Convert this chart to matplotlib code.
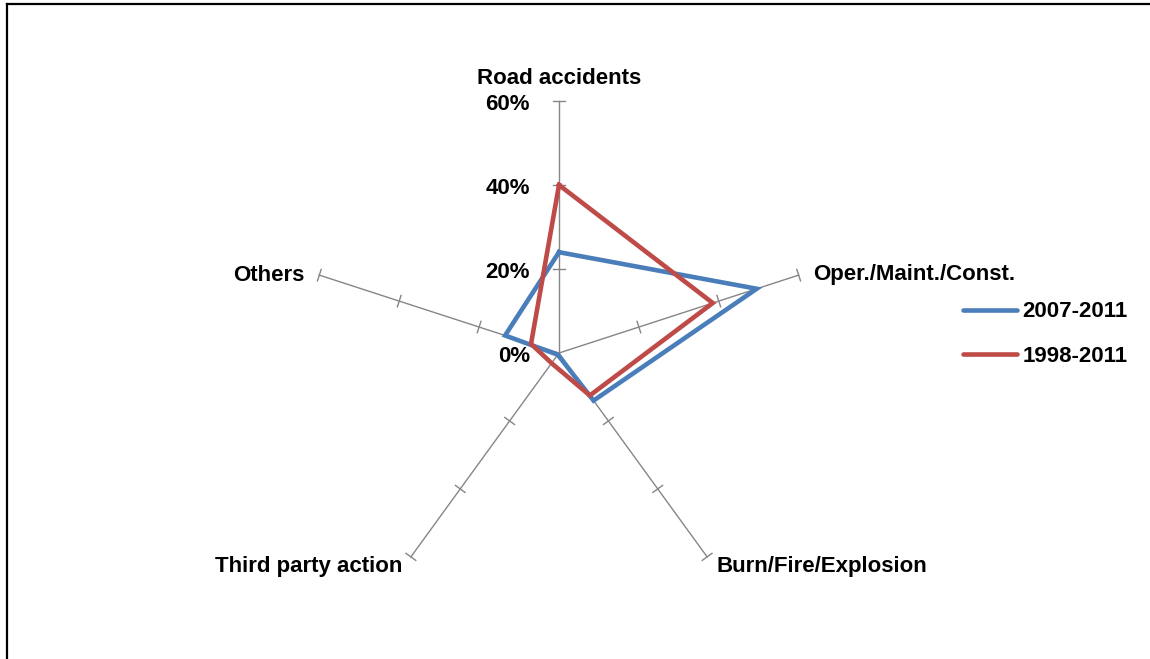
import numpy as np
import matplotlib
matplotlib.use('Agg')
import matplotlib.pyplot as plt

# Data (percent of accidents per cause)
categories = ['Road accidents', 'Oper./Maint./Const.', 'Burn/Fire/Explosion',
              'Third party action', 'Others']
series_2007_2011 = [24, 49.5, 14, 0.5, 13.5]
series_1998_2011 = [40, 38.5, 12.5, 3, 7]
series_labels = ['2007-2011', '1998-2011']
tick_values = [0, 20, 40, 60]
tick_labels = ['0%', '20%', '40%', '60%']

blue = '#4A7EBB'
red = '#BE4B48'
spoke = '#868686'
font = 'Liberation Sans'
fs = 16

W, H = 1150, 659
cx, cy = 559, 353          # centre in pixels
scale = 252 / 60.0         # pixels per percent

fig = plt.figure(figsize=(W / 100, H / 100), dpi=100)
ax = fig.add_axes([0, 0, 1, 1])
ax.set_xlim(-cx / scale, (W - cx) / scale)
ax.set_ylim(-(H - cy) / scale, cy / scale)
ax.axis('off')

n = len(categories)
# clockwise from the top
angles = np.pi / 2 - np.arange(n) * 2 * np.pi / n
ux, uy = np.cos(angles), np.sin(angles)
rmax = tick_values[-1]
tick_half = 6 / scale

# spokes with small perpendicular ticks
for i in range(n):
    ax.plot([0, rmax * ux[i]], [0, rmax * uy[i]], color=spoke, lw=1.0, zorder=1)
    px, py = -uy[i], ux[i]
    for t in tick_values[1:]:
        ax.plot([t * ux[i] - tick_half * px, t * ux[i] + tick_half * px],
                [t * uy[i] - tick_half * py, t * uy[i] + tick_half * py],
                color=spoke, lw=1.0, zorder=1)

# value labels along the top spoke
for t, lab in zip(tick_values, tick_labels):
    ax.annotate(lab, (0, t), xytext=(-29, -3), textcoords='offset pixels',
                ha='right', va='center', fontsize=fs, fontweight='bold',
                family=font, color='black')

# category labels
offsets = [(0, 23, 'center'), (14, 1, 'left'), (9, -10, 'left'),
           (-9, -10, 'right'), (-15, 0, 'right')]
for i, cat in enumerate(categories):
    dx, dy, ha = offsets[i]
    ax.annotate(cat, (rmax * ux[i], rmax * uy[i]), xytext=(dx, dy),
                textcoords='offset pixels', ha=ha, va='center',
                fontsize=fs, fontweight='bold', family=font, color='black')

# series
for vals, col, lab in [(series_2007_2011, blue, series_labels[0]),
                       (series_1998_2011, red, series_labels[1])]:
    v = np.array(vals + vals[:1])
    a = np.concatenate([angles, angles[:1]])
    ax.plot(v * np.cos(a), v * np.sin(a), color=col, lw=3.3,
            solid_joinstyle='miter', label=lab, zorder=3)

leg = ax.legend(loc='center left', bbox_to_anchor=(954 / W, 1 - 334 / H),
                frameon=False, handlelength=2.45, handletextpad=0.22,
                labelspacing=1.05, borderaxespad=0,
                prop={'family': font, 'weight': 'bold', 'size': fs})
for line in leg.get_lines():
    line.set_solid_capstyle('round')

# partial border (top and left only)
fig.add_artist(plt.Line2D([7 / W, 7 / W], [0, 1 - 4 / H], color='black', lw=1.6))
fig.add_artist(plt.Line2D([7 / W, 1], [1 - 4 / H, 1 - 4 / H], color='black', lw=1.6))

fig.savefig('out.png', dpi=100)
